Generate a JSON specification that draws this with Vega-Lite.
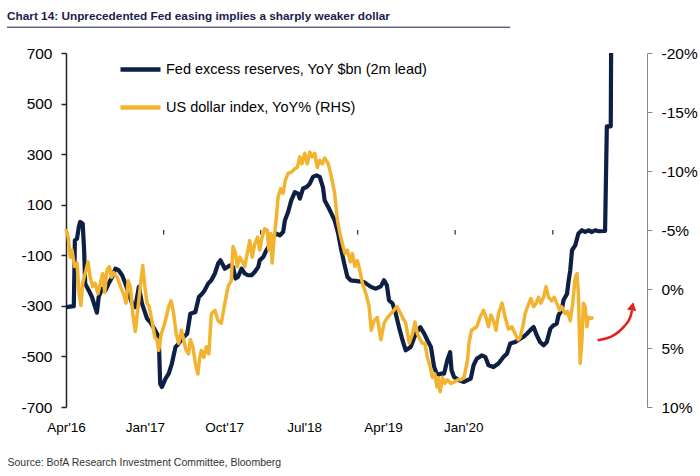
{
  "$schema": "https://vega.github.io/schema/vega-lite/v6.json",
  "width": 581,
  "height": 354,
  "autosize": {"type": "none"},
  "padding": {"left": 66, "top": 53, "right": 53, "bottom": 69},
  "background": "white",
  "title": {
    "text": "Chart 14: Unprecedented Fed easing implies a sharply weaker dollar",
    "anchor": "start",
    "frame": "group",
    "dx": -59,
    "offset": 4,
    "font": "Liberation Sans",
    "fontWeight": "bold",
    "fontSize": 11.8,
    "color": "#1c1c4a"
  },
  "config": {"view": {"stroke": null}, "font": "Liberation Sans"},
  "datasets": {
    "fed": [
      {"d":"2016-04-01","v":-305},{"d":"2016-04-23","v":-301},{"d":"2016-04-26","v":-41},{"d":"2016-05-02","v":-34},{"d":"2016-05-07","v":12},{"d":"2016-05-11","v":32},{"d":"2016-05-18","v":25},{"d":"2016-05-22","v":-80},{"d":"2016-05-25","v":-212},{"d":"2016-06-04","v":-239},{"d":"2016-06-13","v":-265},{"d":"2016-06-22","v":-305},{"d":"2016-06-27","v":-327},{"d":"2016-07-02","v":-265},{"d":"2016-07-11","v":-232},{"d":"2016-07-21","v":-239},{"d":"2016-07-30","v":-212},{"d":"2016-08-09","v":-186},{"d":"2016-08-18","v":-153},{"d":"2016-08-27","v":-159},{"d":"2016-09-06","v":-179},{"d":"2016-09-15","v":-212},{"d":"2016-09-25","v":-252},{"d":"2016-10-04","v":-291},{"d":"2016-10-13","v":-305},{"d":"2016-10-23","v":-225},{"d":"2016-11-01","v":-291},{"d":"2016-11-15","v":-350},{"d":"2016-11-24","v":-364},{"d":"2016-12-08","v":-397},{"d":"2016-12-18","v":-423},{"d":"2016-12-22","v":-608},{"d":"2016-12-27","v":-621},{"d":"2017-01-06","v":-588},{"d":"2017-01-15","v":-568},{"d":"2017-01-24","v":-528},{"d":"2017-02-03","v":-463},{"d":"2017-02-12","v":-449},{"d":"2017-02-26","v":-423},{"d":"2017-03-08","v":-410},{"d":"2017-03-17","v":-331},{"d":"2017-03-31","v":-324},{"d":"2017-04-10","v":-265},{"d":"2017-04-19","v":-252},{"d":"2017-04-26","v":-239},{"d":"2017-05-06","v":-212},{"d":"2017-05-15","v":-199},{"d":"2017-05-25","v":-172},{"d":"2017-06-03","v":-133},{"d":"2017-06-10","v":-120},{"d":"2017-06-22","v":-153},{"d":"2017-07-06","v":-140},{"d":"2017-07-15","v":-146},{"d":"2017-07-22","v":-192},{"d":"2017-07-29","v":-186},{"d":"2017-08-08","v":-153},{"d":"2017-08-17","v":-172},{"d":"2017-08-26","v":-179},{"d":"2017-09-05","v":-179},{"d":"2017-09-14","v":-166},{"d":"2017-09-24","v":-146},{"d":"2017-09-28","v":-120},{"d":"2017-10-08","v":-107},{"d":"2017-10-17","v":-80},{"d":"2017-10-26","v":-61},{"d":"2017-11-05","v":-28},{"d":"2017-11-14","v":-14},{"d":"2017-11-24","v":-21},{"d":"2017-12-03","v":-8},{"d":"2017-12-08","v":38},{"d":"2017-12-17","v":71},{"d":"2017-12-26","v":117},{"d":"2018-01-05","v":150},{"d":"2018-01-14","v":144},{"d":"2018-01-19","v":124},{"d":"2018-01-28","v":164},{"d":"2018-02-07","v":170},{"d":"2018-02-16","v":183},{"d":"2018-02-25","v":210},{"d":"2018-03-07","v":216},{"d":"2018-03-16","v":210},{"d":"2018-03-25","v":170},{"d":"2018-03-30","v":117},{"d":"2018-04-09","v":91},{"d":"2018-04-18","v":65},{"d":"2018-04-27","v":38},{"d":"2018-05-07","v":-14},{"d":"2018-05-14","v":-67},{"d":"2018-05-24","v":-133},{"d":"2018-06-02","v":-186},{"d":"2018-06-11","v":-199},{"d":"2018-06-30","v":-202},{"d":"2018-07-19","v":-206},{"d":"2018-08-07","v":-225},{"d":"2018-08-21","v":-232},{"d":"2018-09-04","v":-223},{"d":"2018-09-13","v":-199},{"d":"2018-09-21","v":-219},{"d":"2018-09-27","v":-278},{"d":"2018-10-07","v":-291},{"d":"2018-10-16","v":-331},{"d":"2018-10-25","v":-384},{"d":"2018-11-04","v":-436},{"d":"2018-11-13","v":-476},{"d":"2018-11-27","v":-463},{"d":"2018-12-11","v":-410},{"d":"2018-12-24","v":-384},{"d":"2019-01-04","v":-410},{"d":"2019-01-13","v":-436},{"d":"2019-01-23","v":-463},{"d":"2019-02-01","v":-542},{"d":"2019-02-10","v":-575},{"d":"2019-02-20","v":-568},{"d":"2019-03-01","v":-568},{"d":"2019-03-10","v":-515},{"d":"2019-03-18","v":-483},{"d":"2019-03-22","v":-555},{"d":"2019-03-29","v":-581},{"d":"2019-04-12","v":-594},{"d":"2019-04-26","v":-601},{"d":"2019-05-06","v":-594},{"d":"2019-05-15","v":-588},{"d":"2019-05-23","v":-535},{"d":"2019-06-01","v":-509},{"d":"2019-06-15","v":-496},{"d":"2019-06-25","v":-502},{"d":"2019-07-04","v":-535},{"d":"2019-07-18","v":-542},{"d":"2019-08-01","v":-528},{"d":"2019-08-15","v":-502},{"d":"2019-08-25","v":-489},{"d":"2019-09-03","v":-449},{"d":"2019-09-17","v":-443},{"d":"2019-10-01","v":-430},{"d":"2019-10-10","v":-423},{"d":"2019-10-20","v":-410},{"d":"2019-10-29","v":-397},{"d":"2019-11-08","v":-384},{"d":"2019-11-17","v":-417},{"d":"2019-11-26","v":-443},{"d":"2019-12-06","v":-456},{"d":"2019-12-15","v":-443},{"d":"2019-12-25","v":-390},{"d":"2020-01-03","v":-377},{"d":"2020-01-12","v":-370},{"d":"2020-01-17","v":-337},{"d":"2020-01-26","v":-318},{"d":"2020-01-31","v":-278},{"d":"2020-02-10","v":-252},{"d":"2020-02-14","v":-206},{"d":"2020-02-19","v":-159},{"d":"2020-02-24","v":-80},{"d":"2020-03-04","v":-61},{"d":"2020-03-13","v":-14},{"d":"2020-03-23","v":-1},{"d":"2020-04-01","v":-8},{"d":"2020-04-10","v":-1},{"d":"2020-04-20","v":-8},{"d":"2020-04-29","v":-1},{"d":"2020-05-09","v":-5},{"d":"2020-05-27","v":-4},{"d":"2020-06-01","v":410},{"d":"2020-06-12","v":410},{"d":"2020-06-13","v":700}
    ],
    "usd": [
      {"d":"2016-04-01","v":-5.1},{"d":"2016-04-07","v":-4.4},{"d":"2016-04-13","v":-2.7},{"d":"2016-04-18","v":-3.3},{"d":"2016-04-25","v":-1.9},{"d":"2016-05-02","v":-2.2},{"d":"2016-05-08","v":0.4},{"d":"2016-05-13","v":1.4},{"d":"2016-05-18","v":-0.5},{"d":"2016-05-25","v":-1.3},{"d":"2016-06-02","v":-2.3},{"d":"2016-06-08","v":-1.0},{"d":"2016-06-15","v":-0.2},{"d":"2016-06-22","v":-0.5},{"d":"2016-06-30","v":0.4},{"d":"2016-07-07","v":-0.5},{"d":"2016-07-13","v":-1.3},{"d":"2016-07-19","v":0.3},{"d":"2016-07-25","v":-1.6},{"d":"2016-08-01","v":-1.9},{"d":"2016-08-07","v":-1.0},{"d":"2016-08-13","v":-1.4},{"d":"2016-08-23","v":-1.0},{"d":"2016-09-01","v":-0.2},{"d":"2016-09-10","v":0.4},{"d":"2016-09-17","v":1.2},{"d":"2016-09-23","v":-0.7},{"d":"2016-09-29","v":-0.2},{"d":"2016-10-06","v":2.1},{"d":"2016-10-13","v":3.6},{"d":"2016-10-21","v":1.5},{"d":"2016-10-27","v":-0.2},{"d":"2016-11-03","v":-2.0},{"d":"2016-11-09","v":-0.2},{"d":"2016-11-15","v":1.2},{"d":"2016-11-21","v":1.5},{"d":"2016-11-29","v":2.7},{"d":"2016-12-07","v":4.1},{"d":"2016-12-13","v":4.3},{"d":"2016-12-18","v":5.2},{"d":"2016-12-25","v":3.8},{"d":"2017-01-01","v":3.2},{"d":"2017-01-08","v":2.4},{"d":"2017-01-15","v":1.5},{"d":"2017-01-22","v":1.0},{"d":"2017-01-29","v":2.1},{"d":"2017-02-05","v":3.8},{"d":"2017-02-12","v":4.6},{"d":"2017-02-20","v":3.5},{"d":"2017-02-26","v":4.3},{"d":"2017-03-05","v":5.2},{"d":"2017-03-12","v":5.5},{"d":"2017-03-17","v":4.3},{"d":"2017-03-24","v":4.9},{"d":"2017-03-31","v":6.3},{"d":"2017-04-07","v":7.2},{"d":"2017-04-12","v":5.9},{"d":"2017-04-17","v":5.2},{"d":"2017-04-24","v":5.8},{"d":"2017-05-01","v":4.9},{"d":"2017-05-08","v":5.5},{"d":"2017-05-15","v":2.1},{"d":"2017-05-25","v":1.8},{"d":"2017-06-03","v":2.7},{"d":"2017-06-12","v":2.9},{"d":"2017-06-22","v":1.2},{"d":"2017-07-01","v":-0.2},{"d":"2017-07-10","v":-0.7},{"d":"2017-07-15","v":-3.6},{"d":"2017-07-22","v":-3.0},{"d":"2017-07-27","v":-1.9},{"d":"2017-08-03","v":-2.7},{"d":"2017-08-09","v":-2.4},{"d":"2017-08-17","v":-1.9},{"d":"2017-08-24","v":-3.0},{"d":"2017-08-31","v":-4.1},{"d":"2017-09-07","v":-2.7},{"d":"2017-09-14","v":-3.8},{"d":"2017-09-22","v":-4.4},{"d":"2017-09-28","v":-3.3},{"d":"2017-10-05","v":-4.4},{"d":"2017-10-12","v":-5.1},{"d":"2017-10-19","v":-5.0},{"d":"2017-10-24","v":-3.3},{"d":"2017-10-29","v":-4.7},{"d":"2017-11-02","v":-2.2},{"d":"2017-11-08","v":-4.4},{"d":"2017-11-14","v":-6.1},{"d":"2017-11-19","v":-7.8},{"d":"2017-11-26","v":-8.5},{"d":"2017-12-03","v":-8.1},{"d":"2017-12-09","v":-9.2},{"d":"2017-12-17","v":-9.8},{"d":"2017-12-26","v":-9.9},{"d":"2018-01-05","v":-10.2},{"d":"2018-01-12","v":-10.3},{"d":"2018-01-19","v":-11.2},{"d":"2018-01-25","v":-10.6},{"d":"2018-02-02","v":-11.5},{"d":"2018-02-09","v":-10.6},{"d":"2018-02-16","v":-11.6},{"d":"2018-02-23","v":-11.2},{"d":"2018-03-02","v":-11.5},{"d":"2018-03-09","v":-10.3},{"d":"2018-03-16","v":-10.9},{"d":"2018-03-23","v":-10.6},{"d":"2018-03-30","v":-11.1},{"d":"2018-04-09","v":-10.6},{"d":"2018-04-18","v":-9.5},{"d":"2018-04-27","v":-8.1},{"d":"2018-05-05","v":-5.8},{"d":"2018-05-12","v":-4.7},{"d":"2018-05-19","v":-3.8},{"d":"2018-05-26","v":-3.0},{"d":"2018-06-02","v":-3.3},{"d":"2018-06-10","v":-2.3},{"d":"2018-06-16","v":-3.0},{"d":"2018-06-23","v":-1.9},{"d":"2018-06-30","v":-2.4},{"d":"2018-07-08","v":-1.4},{"d":"2018-07-14","v":-0.5},{"d":"2018-07-24","v":0.4},{"d":"2018-08-02","v":1.5},{"d":"2018-08-08","v":3.5},{"d":"2018-08-16","v":2.7},{"d":"2018-08-25","v":2.4},{"d":"2018-09-04","v":4.3},{"d":"2018-09-13","v":2.9},{"d":"2018-09-23","v":2.4},{"d":"2018-10-02","v":2.1},{"d":"2018-10-11","v":1.8},{"d":"2018-10-19","v":1.5},{"d":"2018-10-25","v":1.8},{"d":"2018-11-04","v":2.4},{"d":"2018-11-13","v":2.9},{"d":"2018-11-23","v":4.6},{"d":"2018-12-02","v":3.8},{"d":"2018-12-09","v":2.8},{"d":"2018-12-16","v":3.8},{"d":"2018-12-24","v":4.3},{"d":"2018-12-30","v":4.6},{"d":"2019-01-06","v":4.6},{"d":"2019-01-13","v":5.8},{"d":"2019-01-21","v":6.6},{"d":"2019-01-27","v":7.5},{"d":"2019-02-03","v":7.2},{"d":"2019-02-09","v":8.3},{"d":"2019-02-12","v":7.5},{"d":"2019-02-18","v":8.7},{"d":"2019-02-24","v":7.5},{"d":"2019-03-03","v":8.0},{"d":"2019-03-10","v":7.7},{"d":"2019-03-20","v":8.0},{"d":"2019-03-29","v":7.9},{"d":"2019-04-08","v":7.7},{"d":"2019-04-17","v":7.7},{"d":"2019-04-26","v":7.5},{"d":"2019-05-06","v":6.0},{"d":"2019-05-10","v":4.6},{"d":"2019-05-17","v":3.5},{"d":"2019-06-01","v":3.2},{"d":"2019-06-10","v":2.4},{"d":"2019-06-20","v":1.8},{"d":"2019-06-27","v":2.4},{"d":"2019-07-04","v":3.2},{"d":"2019-07-11","v":2.2},{"d":"2019-07-18","v":2.7},{"d":"2019-07-25","v":3.5},{"d":"2019-08-01","v":2.1},{"d":"2019-08-11","v":1.2},{"d":"2019-08-20","v":2.4},{"d":"2019-08-29","v":3.4},{"d":"2019-09-08","v":3.2},{"d":"2019-09-17","v":3.8},{"d":"2019-09-25","v":4.3},{"d":"2019-10-01","v":4.1},{"d":"2019-10-09","v":3.1},{"d":"2019-10-15","v":2.1},{"d":"2019-10-22","v":1.5},{"d":"2019-10-31","v":0.8},{"d":"2019-11-08","v":1.5},{"d":"2019-11-15","v":1.2},{"d":"2019-11-22","v":0.7},{"d":"2019-11-28","v":1.2},{"d":"2019-12-06","v":0.7},{"d":"2019-12-13","v":-0.2},{"d":"2019-12-20","v":0.7},{"d":"2019-12-29","v":1.0},{"d":"2020-01-05","v":0.7},{"d":"2020-01-12","v":1.2},{"d":"2020-01-20","v":1.8},{"d":"2020-01-26","v":1.5},{"d":"2020-02-05","v":2.1},{"d":"2020-02-11","v":1.9},{"d":"2020-02-19","v":2.7},{"d":"2020-02-26","v":1.2},{"d":"2020-03-04","v":-1.0},{"d":"2020-03-09","v":-1.3},{"d":"2020-03-13","v":0.4},{"d":"2020-03-18","v":6.3},{"d":"2020-03-23","v":4.3},{"d":"2020-03-27","v":1.2},{"d":"2020-04-01","v":1.5},{"d":"2020-04-06","v":3.2},{"d":"2020-04-10","v":2.4},{"d":"2020-04-17","v":2.5},{"d":"2020-04-24","v":2.4}
    ],
    "ticks": [{"d":"2017-01-01"},{"d":"2017-10-01"},{"d":"2018-07-01"},{"d":"2019-04-01"},{"d":"2020-01-01"}],
    "arrow": [{"d":"2020-05-06","v":-436},{"d":"2020-06-20","v":-417},{"d":"2020-07-18","v":-384},{"d":"2020-08-06","v":-344},{"d":"2020-08-11","v":-318}],
    "arrowhead": [{"d":"2020-08-12","v":-302}],
    "underline": [{"d":"2015-10-18","d2":"2019-09-03"}]
  },
  "layer": [
    {
      "layer": [
        {
          "mark": {"type": "rule", "color": "#000", "strokeWidth": 1.3},
          "encoding": {"y": {"datum": 0, "type": "quantitative"}}
        },
        {
          "data": {"name": "underline"},
          "mark": {"type": "rule", "color": "#1c1c4a", "strokeWidth": 1, "clip": false},
          "encoding": {
            "x": {"field": "d", "type": "temporal"},
            "x2": {"field": "d2"},
            "y": {"datum": 802, "type": "quantitative"}
          }
        },
        {
          "data": {"name": "ticks"},
          "mark": {"type": "rule", "color": "#000", "strokeWidth": 1},
          "encoding": {
            "x": {"field": "d", "type": "temporal"},
            "y": {"datum": 0, "type": "quantitative"},
            "y2": {"datum": -18}
          }
        },
        {
          "data": {"name": "fed"},
          "mark": {"type": "line", "strokeWidth": 4.2, "strokeJoin": "round"},
          "encoding": {
            "x": {
              "field": "d",
              "type": "temporal",
              "scale": {"type": "utc", "domain": [{"year": 2016, "month": 4, "date": 1, "utc": true}, {"year": 2020, "month": 9, "date": 22, "utc": true}]},
              "axis": {
                "values": [
                  {"year": 2016, "month": 4, "date": 1, "utc": true},
                  {"year": 2016, "month": 11, "date": 9, "utc": true},
                  {"year": 2017, "month": 6, "date": 20, "utc": true},
                  {"year": 2018, "month": 1, "date": 31, "utc": true},
                  {"year": 2018, "month": 9, "date": 10, "utc": true},
                  {"year": 2019, "month": 4, "date": 24, "utc": true}
                ],
                "labelExpr": "datum.value < utc(2016,6,1) ? \"Apr'16\" : datum.value < utc(2017,0,1) ? \"Jan'17\" : datum.value < utc(2017,9,1) ? \"Oct'17\" : datum.value < utc(2018,5,1) ? \"Jul'18\" : datum.value < utc(2019,0,1) ? \"Apr'19\" : \"Jan'20\"",
                "domain": false,
                "ticks": false,
                "grid": false,
                "labelOverlap": false,
                "labelFlush": false,
                "labelPadding": 13,
                "labelFont": "Liberation Sans",
                "labelFontSize": 13.5,
                "labelColor": "#000",
                "title": "Source: BofA Research Investment Committee, Bloomberg",
                "titleAnchor": "start",
                "titleAlign": "left",
                "titleX": -59,
                "titleY": 58,
                "titleBaseline": "alphabetic",
                "titleFont": "Liberation Sans",
                "titleFontSize": 10.5,
                "titleFontWeight": "normal",
                "titleColor": "#333"
              }
            },
            "y": {
              "field": "v",
              "type": "quantitative",
              "scale": {"domain": [-700, 700], "nice": false, "zero": false},
              "axis": {
                "orient": "left",
                "values": [-700, -500, -300, -100, 100, 300, 500, 700],
                "labelExpr": "'' + datum.value",
                "title": null,
                "grid": false,
                "domainColor": "#222",
                "domainWidth": 1.5,
                "tickColor": "#222",
                "tickWidth": 1.5,
                "tickSize": 5,
                "labelPadding": 9,
                "labelFont": "Liberation Sans",
                "labelFontSize": 15.5,
                "labelColor": "#000"
              }
            },
            "color": {
              "datum": "Fed excess reserves, YoY $bn (2m lead)",
              "type": "nominal",
              "scale": {"domain": ["Fed excess reserves, YoY $bn (2m lead)", "US dollar index, YoY% (RHS)"], "range": ["#0d1f45", "#f2b331"]},
              "legend": {
                "orient": "none",
                "legendX": 52,
                "legendY": -6,
                "title": null,
                "padding": 0,
                "symbolType": "stroke",
                "symbolSize": 1600,
                "symbolStrokeWidth": 4.5,
                "labelFont": "Liberation Sans",
                "labelFontSize": 14.5,
                "labelColor": "#000",
                "labelOffset": 3,
                "labelLimit": 400,
                "rowPadding": 6
              }
            }
          }
        },
        {
          "data": {"name": "arrow"},
          "mark": {"type": "line", "color": "#e3211c", "strokeWidth": 2.5, "interpolate": "monotone"},
          "encoding": {
            "x": {"field": "d", "type": "temporal"},
            "y": {"field": "v", "type": "quantitative"}
          }
        },
        {
          "data": {"name": "arrowhead"},
          "mark": {"type": "point", "shape": "triangle-up", "filled": true, "color": "#e3211c", "size": 90, "angle": 12, "opacity": 1},
          "encoding": {
            "x": {"field": "d", "type": "temporal"},
            "y": {"field": "v", "type": "quantitative"}
          }
        }
      ]
    },
    {
      "data": {"name": "usd"},
      "mark": {"type": "line", "strokeWidth": 3.5, "strokeJoin": "round"},
      "encoding": {
        "x": {"field": "d", "type": "temporal"},
        "y": {
          "field": "v",
          "type": "quantitative",
          "scale": {"domain": [-20, 10], "reverse": true, "nice": false, "zero": false},
          "axis": {
            "orient": "right",
            "values": [-20, -15, -10, -5, 0, 5, 10],
            "labelExpr": "datum.value + '%'",
            "title": null,
            "grid": false,
            "domainColor": "#888",
            "tickColor": "#888",
            "tickSize": 5,
            "labelPadding": 9,
            "labelFont": "Liberation Sans",
            "labelFontSize": 15.5,
            "labelColor": "#000"
          }
        },
        "color": {"datum": "US dollar index, YoY% (RHS)", "type": "nominal"}
      }
    }
  ],
  "resolve": {"scale": {"y": "independent"}}
}
